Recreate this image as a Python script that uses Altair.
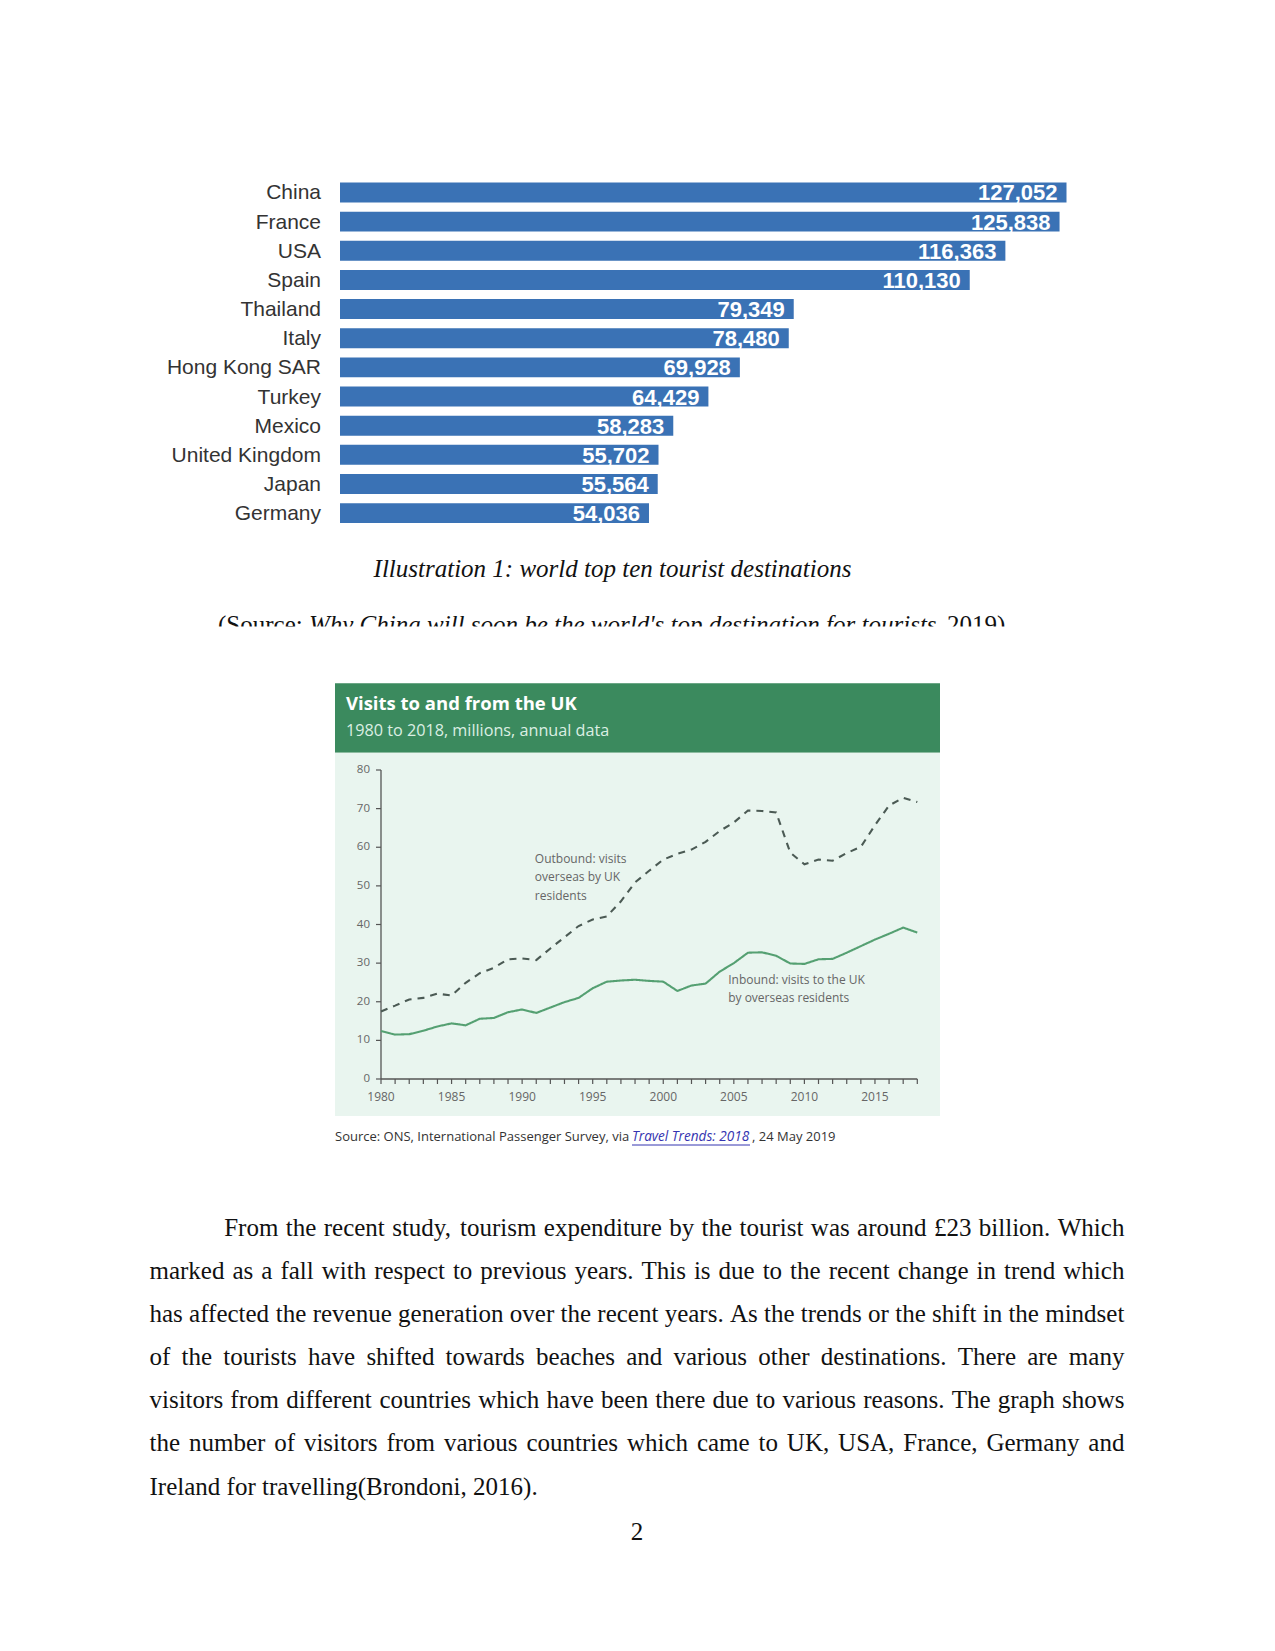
import altair as alt
import pandas as pd

# page margin: plot coordinates = page coordinates - M
M = 8
W, H = 1259, 1635

# ---------------- data ----------------
countries = ["China", "France", "USA", "Spain", "Thailand", "Italy", "Hong Kong SAR",
             "Turkey", "Mexico", "United Kingdom", "Japan", "Germany"]
arrivals = [127052, 125838, 116363, 110130, 79349, 78480, 69928, 64429, 58283,
            55702, 55564, 54036]

years = list(range(1980, 2019))
inbound = [12.4, 11.5, 11.6, 12.5, 13.6, 14.4, 13.9, 15.6, 15.8, 17.3,
           18.0, 17.1, 18.5, 19.9, 21.0, 23.5, 25.2, 25.5, 25.7, 25.4,
           25.2, 22.8, 24.2, 24.7, 27.8, 30.0, 32.7, 32.8, 31.9, 29.9,
           29.8, 31.0, 31.1, 32.7, 34.4, 36.1, 37.6, 39.2, 37.9]
outbound = [17.5, 19.0, 20.6, 21.0, 22.1, 21.6, 24.9, 27.4, 28.8, 31.0,
            31.2, 30.8, 33.8, 36.7, 39.6, 41.3, 42.1, 46.0, 50.9, 53.9,
            56.8, 58.3, 59.4, 61.4, 64.2, 66.4, 69.5, 69.4, 69.0, 58.6,
            55.6, 56.8, 56.5, 58.5, 60.1, 65.7, 70.8, 72.8, 71.7]
y_ticks = [0, 10, 20, 30, 40, 50, 60, 70, 80]
x_label_years = [1980, 1985, 1990, 1995, 2000, 2005, 2010, 2015]

caption = "Illustration 1: world top ten tourist destinations"
src_parts = ["(Source: ", "Why China will soon be the world's top destination for tourists", ", 2019)"]
ons_title = "Visits to and from the UK"
ons_subtitle = "1980 to 2018, millions, annual data"
ons_source = ["Source: ONS, International Passenger Survey, via", "Travel Trends: 2018", ", 24 May 2019"]
out_note = ["Outbound: visits", "overseas by UK", "residents"]
out_note_year = [1990.9, 1990.9, 1990.9]
out_note_val = [57.0, 52.3, 47.4]
in_note = ["Inbound: visits to the UK", "by overseas  residents"]
in_note_year = [2004.6, 2004.6]
in_note_val = [25.6, 21.0]
body_lines = [
    "From the recent study, tourism expenditure by the tourist was around £23 billion. Which",
    "marked as a fall with respect to previous years. This is due to the recent change in trend which",
    "has affected the revenue generation over the recent years. As the trends or the shift in the mindset",
    "of the tourists have shifted towards beaches and various other destinations. There are many",
    "visitors from different countries which have been there due to various reasons. The graph shows",
    "the number of visitors from various countries which came to UK, USA, France, Germany and",
    "Ireland for travelling(Brondoni, 2016).",
]
page_no = "2"

# Times / Liberation Serif advance widths (per 1000 em) for justification
TIMES = {' ': 250, '!': 333, '"': 408, '#': 500, '$': 500, '%': 833, '&': 778, "'": 180,
         '(': 333, ')': 333, '*': 500, '+': 564, ',': 250, '-': 333, '.': 250, '/': 278,
         ':': 278, ';': 278, '£': 500, '?': 444,
         'A': 722, 'B': 667, 'C': 667, 'D': 722, 'E': 611, 'F': 556, 'G': 722, 'H': 722,
         'I': 333, 'J': 389, 'K': 722, 'L': 611, 'M': 889, 'N': 722, 'O': 722, 'P': 556,
         'Q': 722, 'R': 667, 'S': 556, 'T': 611, 'U': 722, 'V': 722, 'W': 944, 'X': 722,
         'Y': 722, 'Z': 611,
         'a': 444, 'b': 500, 'c': 444, 'd': 500, 'e': 444, 'f': 333, 'g': 500, 'h': 500,
         'i': 278, 'j': 278, 'k': 500, 'l': 278, 'm': 778, 'n': 500, 'o': 500, 'p': 500,
         'q': 500, 'r': 333, 's': 389, 't': 278, 'u': 500, 'v': 500, 'w': 722, 'x': 500,
         'y': 500, 'z': 444}
for d in "0123456789":
    TIMES[d] = 500


def tw(s, size):
    return sum(TIMES.get(c, 500) for c in s) * size / 1000.0


one = pd.DataFrame({"k": [0]})


def text_at(x, y, s, **kw):
    df = pd.DataFrame({"t": [s]})
    return alt.Chart(df).mark_text(**kw).encode(
        x=alt.value(x - M), y=alt.value(y - M), text="t:N")


def rect_at(x1, y1, x2, y2, color):
    return alt.Chart(one).mark_rect(color=color).encode(
        x=alt.value(x1 - M), x2=alt.value(x2 - M), y=alt.value(y1 - M), y2=alt.value(y2 - M))


layers = []

# ---------------- bar chart ----------------
bar_df = pd.DataFrame({"country": countries, "arrivals": arrivals})
bx = alt.Scale(domain=[0, arrivals[0]], range=[340 - M, 1066.5 - M], nice=False)
by = alt.Scale(domain=countries, range=[177.9 - M, 527.7 - M], paddingInner=0.314, paddingOuter=0.157)
bars = alt.Chart(bar_df).mark_bar(color="#3a72b5").encode(
    x=alt.X("arrivals:Q", scale=bx, axis=None),
    y=alt.Y("country:N", scale=by, sort=None, axis=None),
)
bar_values = alt.Chart(bar_df).mark_text(
    align="right", baseline="middle", dx=-9, dy=1, color="white", font="Liberation Sans",
    fontSize=22, fontWeight="bold").encode(
    x=alt.X("arrivals:Q", scale=bx, axis=None),
    y=alt.Y("country:N", scale=by, sort=None, axis=None),
    text=alt.Text("arrivals:Q", format=","),
)
bar_cats = alt.Chart(bar_df).mark_text(
    align="right", baseline="middle", dy=1, color="#333333", font="Liberation Sans",
    fontSize=21).encode(
    x=alt.value(321 - M),
    y=alt.Y("country:N", scale=by, sort=None, axis=None),
    text="country:N",
)
layers.append(alt.layer(bars, bar_values, bar_cats))

# ---------------- captions ----------------
layers.append(text_at(612.5, 568.5, caption, font="Liberation Serif", fontStyle="italic",
                      fontSize=25, align="center", baseline="middle", color="#111111"))
sx0 = 218
sx1 = sx0 + tw(src_parts[0], 25)
layers.append(text_at(sx0, 624.5, src_parts[0], font="Liberation Serif", fontSize=25,
                      align="left", baseline="middle", color="#111111"))
layers.append(text_at(sx1, 624.5, src_parts[1], font="Liberation Serif", fontStyle="italic",
                      fontSize=25, align="left", baseline="middle", color="#111111"))
layers.append(text_at(1005.4, 624.5, src_parts[2], font="Liberation Serif", fontSize=25,
                      align="right", baseline="middle", color="#111111"))
# the source line is cut off in the page image
layers.append(rect_at(190, 626.5, 1030, 645, "white"))

# ---------------- ONS chart ----------------
layers.append(rect_at(335, 683.3, 940, 752.7, "#3b8a5e"))
layers.append(rect_at(335, 752.7, 940, 1116, "#e9f5ef"))
layers.append(text_at(346, 710, ons_title, font="Open Sans", fontWeight="bold", fontSize=18.5,
                      align="left", baseline="alphabetic", color="white"))
layers.append(text_at(346, 736, ons_subtitle, font="Open Sans", fontSize=16.2,
                      align="left", baseline="alphabetic", color="#dcefe3"))

line_df = pd.DataFrame({
    "year": years + years,
    "visits": outbound + inbound,
    "series": ["Outbound"] * len(years) + ["Inbound"] * len(years),
})
lx = alt.Scale(domain=[1980, 2018], range=[381 - M, 917.3 - M], nice=False, zero=False)
ly = alt.Scale(domain=[0, 80], range=[1079 - M, 770 - M], nice=False, zero=False)
AX_COL = "#555555"
LBL_COL = "#666666"
X0_PIX = 381 - M      # y-axis line position
Y0_PIX = 1079 - M     # x-axis line position

ydom_df = pd.DataFrame({"lo": [y_ticks[0]], "hi": [y_ticks[-1]]})
xdom_df = pd.DataFrame({"lo": [years[0]], "hi": [years[-1]]})
ytick_df = pd.DataFrame({"v": y_ticks, "lab": [str(v) for v in y_ticks]})
xtick_df = pd.DataFrame({"year": years})
xlab_df = pd.DataFrame({"year": x_label_years, "lab": [str(v) for v in x_label_years]})

y_domain = alt.Chart(ydom_df).mark_rule(color=AX_COL, strokeWidth=1.3).encode(
    x=alt.value(X0_PIX), y=alt.Y("lo:Q", scale=ly, axis=None), y2="hi:Q")
y_tick_marks = alt.Chart(ytick_df).mark_rule(color=AX_COL, strokeWidth=1.2).encode(
    x=alt.value(X0_PIX - 5), x2=alt.value(X0_PIX), y=alt.Y("v:Q", scale=ly, axis=None))
y_tick_labels = alt.Chart(ytick_df).mark_text(
    align="right", baseline="middle", font="Open Sans", fontSize=11.5, color=LBL_COL).encode(
    x=alt.value(X0_PIX - 11), y=alt.Y("v:Q", scale=ly, axis=None), text="lab:N")
x_domain = alt.Chart(xdom_df).mark_rule(color=AX_COL, strokeWidth=1.3).encode(
    y=alt.value(Y0_PIX), x=alt.X("lo:Q", scale=lx, axis=None), x2="hi:Q")
x_tick_marks = alt.Chart(xtick_df).mark_rule(color=AX_COL, strokeWidth=1.2).encode(
    y=alt.value(Y0_PIX), y2=alt.value(Y0_PIX + 5), x=alt.X("year:Q", scale=lx, axis=None))
x_tick_labels = alt.Chart(xlab_df).mark_text(
    align="center", baseline="middle", font="Open Sans", fontSize=12, color=LBL_COL).encode(
    y=alt.value(1097 - M), x=alt.X("year:Q", scale=lx, axis=None), text="lab:N")

lines = alt.Chart(line_df).mark_line(strokeWidth=2.1).encode(
    x=alt.X("year:Q", scale=lx, axis=None),
    y=alt.Y("visits:Q", scale=ly, axis=None),
    color=alt.Color("series:N", scale=alt.Scale(domain=["Outbound", "Inbound"],
                                                range=["#4b5a54", "#55a072"]), legend=None),
    strokeDash=alt.StrokeDash("series:N", scale=alt.Scale(domain=["Outbound", "Inbound"],
                                                          range=[[7, 6], [1, 0]]), legend=None),
)
note_df = pd.DataFrame({
    "year": out_note_year + in_note_year,
    "visits": out_note_val + in_note_val,
    "label": out_note + in_note,
})
notes = alt.Chart(note_df).mark_text(align="left", baseline="middle", font="Open Sans",
                                     fontSize=12, color="#666666").encode(
    x=alt.X("year:Q", scale=lx, axis=None),
    y=alt.Y("visits:Q", scale=ly, axis=None),
    text="label:N",
)
layers.append(alt.layer(y_domain, y_tick_marks, y_tick_labels, x_domain, x_tick_marks,
                        x_tick_labels, lines, notes))

# source under the ONS chart
layers.append(text_at(335, 1137, ons_source[0], font="Open Sans", fontSize=13,
                      align="left", baseline="middle", color="#333333"))
layers.append(text_at(632, 1137, ons_source[1], font="Open Sans", fontSize=13.6, fontStyle="italic",
                      align="left", baseline="middle", color="#3434b0"))
layers.append(text_at(752, 1137, ons_source[2], font="Open Sans", fontSize=13,
                      align="left", baseline="middle", color="#333333"))
layers.append(alt.Chart(one).mark_rule(color="#3434b0", strokeWidth=1).encode(
    x=alt.value(632 - M), x2=alt.value(750 - M), y=alt.value(1145 - M)))

# ---------------- body text (justified) ----------------
FS = 25
left, right, indent = 149.5, 1124.4, 224.2
y0, dy = 1227.6, 43.17
rows = []
for i, line in enumerate(body_lines):
    words = line.split(" ")
    start = indent if i == 0 else left
    widths = [tw(w, FS) for w in words]
    if i < len(body_lines) - 1 and len(words) > 1:
        gap = (right - start - sum(widths)) / (len(words) - 1)
    else:
        gap = tw(" ", FS)
    x = start
    for w, wd in zip(words, widths):
        rows.append({"x": x - M, "y": y0 + i * dy - M, "w": w})
        x += wd + gap
body_df = pd.DataFrame(rows)
layers.append(alt.Chart(body_df).mark_text(
    align="left", baseline="middle", font="Liberation Serif", fontSize=FS, color="#111111").encode(
    x=alt.X("x:Q", scale=None, axis=None),
    y=alt.Y("y:Q", scale=None, axis=None),
    text="w:N"))

layers.append(text_at(637, 1532, page_no, font="Liberation Serif", fontSize=FS,
                      align="center", baseline="middle", color="#111111"))

chart = alt.layer(*layers).resolve_scale(
    x="independent", y="independent", color="independent", strokeDash="independent"
).properties(
    width=W, height=H, padding=0, autosize=alt.AutoSizeParams(type="none")
).configure_view(stroke=None)

chart.save("out.html", embed_options={"renderer": "svg", "actions": False})
